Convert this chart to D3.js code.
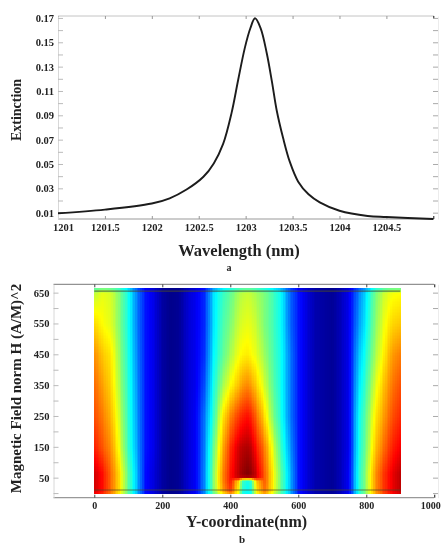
<!DOCTYPE html>
<html>
<head>
<meta charset="utf-8">
<title>Extinction and magnetic field</title>
<script src="https://d3js.org/d3.v7.min.js"></script>
<style>
  body { margin: 0; background: #fff; }
  svg { display: block; filter: blur(0.5px); }
  text { font-family: "Liberation Serif", serif; font-weight: bold; fill: #222; }
</style>
</head>
<body>
<script>
// panel a: spectrum
const wavelength = [1201, 1201.5, 1202, 1202.19, 1202.37, 1202.55, 1202.66, 1202.76, 1202.85, 1202.92, 1202.99, 1203.05, 1203.1, 1203.16, 1203.225, 1203.28, 1203.33, 1203.4, 1203.47, 1203.56, 1203.67, 1203.79, 1204, 1204.3, 1204.5, 1205]
const extinction = [0.0095, 0.0125, 0.0175, 0.0218, 0.029, 0.0395, 0.0505, 0.0665, 0.092, 0.119, 0.145, 0.1615, 0.1697, 0.1615, 0.141, 0.1177, 0.0944, 0.0711, 0.0519, 0.0355, 0.0251, 0.0185, 0.0116, 0.0073, 0.0064, 0.0048]
const xTicksA = [1201, 1201.5, 1202, 1202.5, 1203, 1203.5, 1204, 1204.5, 1205]
const xLabelsA = [1201, 1201.5, 1202, 1202.5, 1203, 1203.5, 1204, 1204.5]
const yLabelsA = [0.01, 0.03, 0.05, 0.07, 0.09, 0.11, 0.13, 0.15, 0.17]
const yMinorA = [0.02, 0.04, 0.06, 0.08, 0.1, 0.12, 0.14, 0.16]

// panel b: colour level (0 dark blue .. 1 dark red) read at these positions
const fieldX = [0,25,50,75,100,125,150,175,200,225,250,275,300,325,350,375,400,425,437.5,450,462.5,475,500,525,550,575,600,625,650,675,700,725,750,775,800,825,850,875,900]
const fieldY = [0, 12, 40, 47, 52, 65, 150, 250, 350, 450, 550, 650, 665]
const fieldLevels = [
  [.9,.85,.75,.63,.46,.3,.12,.08,.03,.01,.02,.07,.11,.25,.46,.62,.74,.6,.38,.36,.38,.6,.72,.6,.44,.3,.13,.08,.04,.03,.02,.05,.11,.36,.52,.7,.81,.88,.93],
  [.93,.88,.77,.65,.46,.3,.12,.08,.03,.01,.02,.07,.11,.25,.5,.7,.84,.62,.4,.36,.4,.62,.78,.64,.46,.3,.13,.08,.04,.03,.02,.05,.11,.37,.53,.72,.83,.9,.95],
  [.93,.88,.77,.65,.46,.3,.12,.08,.03,.01,.02,.07,.11,.25,.5,.72,.87,.66,.42,.38,.42,.66,.8,.64,.46,.3,.13,.08,.04,.03,.02,.05,.11,.37,.53,.72,.83,.9,.95],
  [.93,.88,.77,.65,.46,.3,.12,.08,.03,.01,.02,.07,.11,.25,.5,.72,.87,.8,.66,.64,.66,.8,.8,.64,.46,.3,.13,.08,.04,.03,.02,.05,.11,.37,.53,.72,.83,.9,.95],
  [.93,.88,.77,.65,.46,.3,.12,.08,.03,.01,.02,.07,.11,.25,.5,.72,.87,.94,.95,.96,.95,.93,.8,.64,.46,.3,.13,.08,.04,.03,.02,.05,.11,.37,.53,.72,.83,.9,.95],
  [.93,.88,.77,.65,.46,.3,.12,.08,.03,.01,.02,.07,.11,.25,.5,.72,.87,.95,.98,1,.98,.94,.8,.64,.46,.3,.13,.08,.04,.03,.02,.05,.11,.37,.53,.72,.83,.9,.95],
  [.86,.8,.73,.6,.42,.28,.13,.09,.03,.01,.02,.07,.11,.24,.47,.68,.84,.93,.95,.96,.94,.88,.76,.6,.42,.27,.13,.08,.04,.03,.02,.05,.1,.35,.5,.67,.77,.85,.9],
  [.81,.76,.69,.57,.41,.27,.13,.09,.03,.01,.02,.07,.11,.23,.41,.62,.75,.83,.86,.88,.85,.79,.66,.51,.38,.24,.13,.08,.04,.03,.02,.05,.1,.34,.48,.63,.72,.8,.85],
  [.78,.72,.66,.54,.4,.26,.13,.09,.03,.01,.02,.07,.1,.19,.38,.52,.62,.69,.73,.75,.72,.68,.58,.47,.37,.24,.13,.08,.04,.03,.02,.05,.1,.31,.44,.58,.68,.76,.81],
  [.74,.68,.64,.52,.39,.25,.13,.09,.03,.01,.02,.07,.1,.16,.35,.45,.54,.61,.63,.64,.62,.6,.53,.45,.37,.24,.13,.08,.04,.03,.02,.05,.1,.28,.4,.53,.63,.72,.76],
  [.66,.62,.59,.5,.38,.24,.13,.09,.03,.01,.02,.07,.1,.15,.33,.43,.5,.57,.59,.6,.59,.57,.5,.44,.36,.22,.13,.08,.04,.03,.02,.05,.1,.24,.36,.5,.6,.66,.68],
  [.56,.6,.58,.5,.38,.24,.13,.09,.03,.01,.02,.07,.1,.15,.33,.41,.47,.54,.56,.57,.56,.54,.5,.44,.36,.22,.13,.08,.04,.03,.02,.05,.1,.22,.34,.48,.57,.61,.62],
  [.45,.48,.46,.41,.32,.2,.1,.07,.02,.01,.01,.05,.08,.12,.26,.33,.38,.42,.44,.44,.44,.42,.38,.34,.28,.18,.1,.06,.03,.02,.01,.04,.08,.18,.27,.38,.44,.47,.47]
]
const fieldLines = [10, 655]
const xTicksB = [0, 200, 400, 600, 800, 1000]
const yLabelsB = [50, 150, 250, 350, 450, 550, 650]
const yMinorB = [0, 100, 200, 300, 400, 500, 600]

const svg = d3.select("body").append("svg").attr("width", 441).attr("height", 545)

function frame(x, y, xTicks, xLabels, yLabels, yMinor, fmtY, topColor, tickColor, pad, xSize) {
  const [l, r] = x.range(), [b, t] = y.range()
  const last = xTicks[xTicks.length - 1]

  const bottom = svg.append("g").attr("transform", `translate(0,${b})`)
    .call(d3.axisBottom(x).tickValues(xTicks).tickSizeInner(-3).tickSizeOuter(0).tickPadding(pad)
      .tickFormat(d => xLabels.includes(d) ? String(d) : ""))
  bottom.select(".domain").attr("stroke", "#999").attr("stroke-width", 1.2).attr("d", `M${l},0H${r - 4}`)
  bottom.selectAll("line").attr("stroke", d => d === last ? "#111" : tickColor)
  bottom.selectAll("text").style("font-size", xSize + "px").style("font-family", null)
    .attr("dx", d => d === 1000 ? -4 : d === 1201 ? 5 : 0)

  const top = svg.append("g").attr("transform", `translate(0,${t})`)
    .call(d3.axisTop(x).tickValues(xTicks).tickSizeInner(-3).tickSizeOuter(0).tickFormat(""))
  top.select(".domain").attr("stroke", topColor).attr("d", `M${l},0H${r - 4}`)
  top.selectAll("line").attr("stroke", d => d === last ? "#111" : tickColor)

  const allY = yLabels.concat(yMinor)
  svg.append("g").attr("transform", `translate(${l},0)`)
    .call(d3.axisLeft(y).tickValues(allY).tickSizeInner(-5).tickSizeOuter(0).tickPadding(4)
      .tickFormat(d => yLabels.includes(d) ? fmtY(d) : ""))
    .call(g => g.select(".domain").attr("stroke", "#d8d8d8"))
    .call(g => g.selectAll("line").attr("stroke", "#bbb"))
    .call(g => g.selectAll("text").style("font-size", "10.5px").style("font-family", null))

  svg.append("g").attr("transform", `translate(${r},0)`)
    .call(d3.axisRight(y).tickValues(allY).tickSizeInner(-5).tickSizeOuter(0).tickFormat(""))
    .call(g => g.select(".domain").attr("stroke", "#ececec"))
    .call(g => g.selectAll("line").attr("stroke", "#aaa"))
}

function label(text, x, y, size, rotate) {
  svg.append("text").text(text)
    .attr("text-anchor", "middle")
    .attr("transform", `translate(${x},${y})` + (rotate ? " rotate(-90)" : ""))
    .style("font-size", size + "px")
}

// ---- panel a
const xA = d3.scaleLinear().domain([1201, 1205.05]).range([58, 438])
const yA = d3.scaleLinear().domain([0.0048, 0.1716]).range([219, 16])
frame(xA, yA, xTicksA, xLabelsA, yLabelsA, yMinorA, d3.format(".2f"), "#c4c4c4", "#999", 5, 10.5)

const spectrum = d3.line().x((d, i) => xA(wavelength[i])).y(d => yA(d)).curve(d3.curveCatmullRom.alpha(0.5))
svg.append("path").datum(extinction).attr("d", spectrum)
  .attr("fill", "none").attr("stroke", "#1c1c1c").attr("stroke-width", 1.9)

label("Wavelength (nm)", 239, 256, 16.5)
label("a", 229, 271, 10)
label("Extinction", 21, 110, 14, true)

// ---- panel b
const xB = d3.scaleLinear().domain([-120, 1011]).range([53.5, 438])
const yB = d3.scaleLinear().domain([-15, 677]).range([497.7, 284.3])

const jet = d3.scaleLinear()
  .domain([0, .11, .36, .5, .62, .89, 1])
  .range(["#00007f", "#0000ff", "#00ffff", "#7dff7a", "#ffff00", "#ff0000", "#7f0000"])
  .clamp(true)

function level(px, py) {
  const i = Math.min(d3.bisectRight(fieldX, px) - 1, fieldX.length - 2)
  const j = Math.min(d3.bisectRight(fieldY, py) - 1, fieldY.length - 2)
  const u = (px - fieldX[i]) / (fieldX[i + 1] - fieldX[i])
  const v = (py - fieldY[j]) / (fieldY[j + 1] - fieldY[j])
  const a = fieldLevels[j][i] * (1 - u) + fieldLevels[j][i + 1] * u
  const b = fieldLevels[j + 1][i] * (1 - u) + fieldLevels[j + 1][i + 1] * u
  return a * (1 - v) + b * v
}

const stepX = 5, stepY = 5
const cells = d3.cross(d3.range(0, 900, stepX), d3.range(0, 665, stepY))
svg.append("g").attr("shape-rendering", "crispEdges")
  .selectAll("rect").data(cells).join("rect")
  .attr("x", d => xB(d[0]))
  .attr("y", d => yB(d[1] + stepY))
  .attr("width", xB(stepX) - xB(0) + 0.6)
  .attr("height", yB(0) - yB(stepY) + 0.6)
  .attr("fill", d => jet(level(d[0] + stepX / 2, d[1] + stepY / 2)))

svg.append("g").selectAll("line").data(fieldLines).join("line")
  .attr("x1", xB(0)).attr("x2", xB(900))
  .attr("y1", d => yB(d)).attr("y2", d => yB(d))
  .attr("stroke", "#4a4a2a").attr("stroke-opacity", 0.7).attr("stroke-width", 1.2)

frame(xB, yB, xTicksB, xTicksB, yLabelsB, yMinorB, d3.format(""), "#777", "#444", 4, 10)

label("Y-coordinate(nm)", 246.5, 527, 16)
label("b", 242, 543, 11)
label("Magnetic Field norm H (A/M)^2", 20.5, 388.5, 15, true)
</script>
</body>
</html>
